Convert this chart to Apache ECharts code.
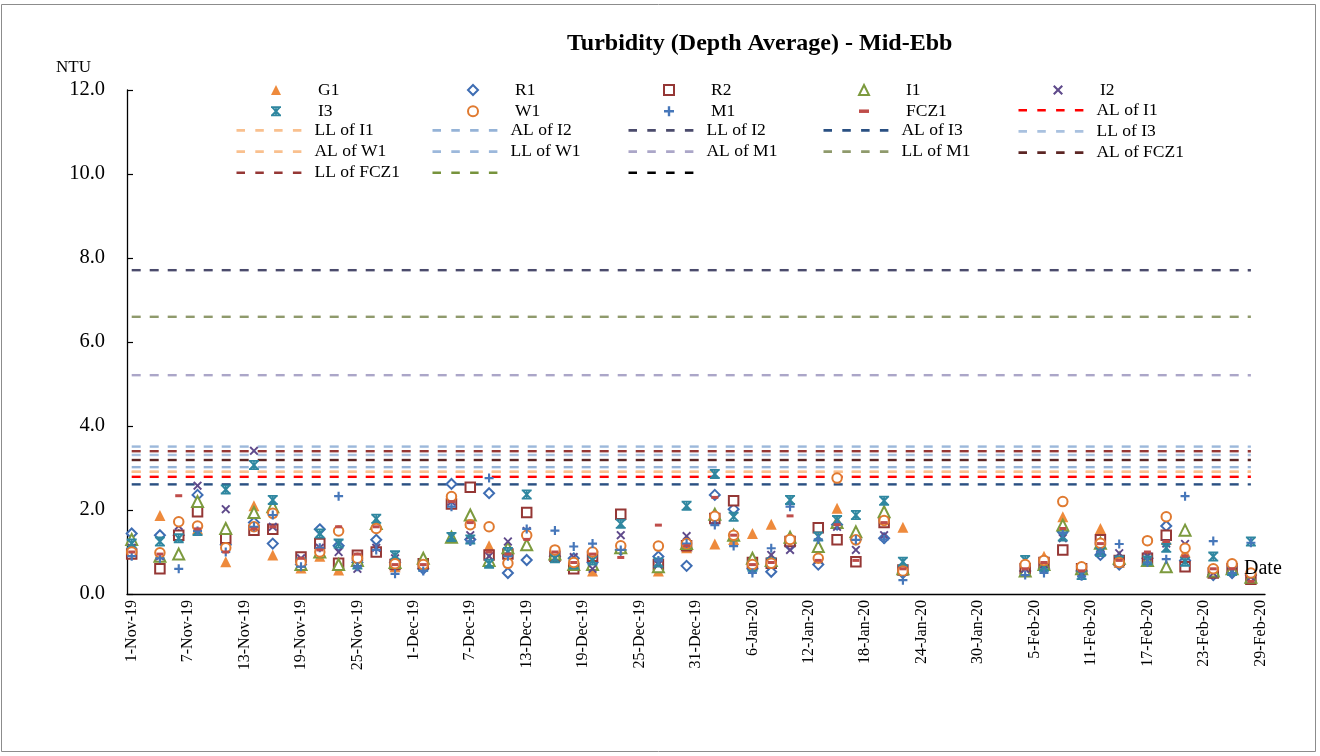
<!DOCTYPE html>
<html><head><meta charset="utf-8">
<script src="https://cdn.jsdelivr.net/npm/echarts@6/dist/echarts.min.js"></script>
<style>html,body{margin:0;padding:0;background:#fff}#c{width:1320px;height:756px}</style>
</head><body><div id="c"></div>
<script>
// ---------- DATA ----------
const MONTHS = ['Jan','Feb','Mar','Apr','May','Jun','Jul','Aug','Sep','Oct','Nov','Dec'];
function fmtDay(dt){ return dt.getUTCDate() + '-' + MONTHS[dt.getUTCMonth()] + '-' + String(dt.getUTCFullYear()).slice(2); }
const categories = [];
for (let t = Date.UTC(2019,10,1); t <= Date.UTC(2020,1,29); t += 86400000) categories.push(fmtDay(new Date(t)));

const sampleDates = ['1-Nov-19','4-Nov-19','6-Nov-19','8-Nov-19','11-Nov-19','14-Nov-19','16-Nov-19','19-Nov-19','21-Nov-19','23-Nov-19',
  '25-Nov-19','27-Nov-19','29-Nov-19','2-Dec-19','5-Dec-19','7-Dec-19','9-Dec-19','11-Dec-19','13-Dec-19','16-Dec-19',
  '18-Dec-19','20-Dec-19','23-Dec-19','27-Dec-19','30-Dec-19','2-Jan-20','4-Jan-20','6-Jan-20','8-Jan-20','10-Jan-20',
  '13-Jan-20','15-Jan-20','17-Jan-20','20-Jan-20','22-Jan-20','4-Feb-20','6-Feb-20','8-Feb-20','10-Feb-20','12-Feb-20',
  '14-Feb-20','17-Feb-20','19-Feb-20','21-Feb-20','24-Feb-20','26-Feb-20','28-Feb-20'];

const G1 = [1.10,1.87,1.40,1.55,0.77,2.10,0.93,0.62,0.90,0.57,0.80,1.13,0.65,0.80,2.25,1.70,1.15,1.05,1.17,1.00,0.65,0.55,1.12,0.55,1.10,1.19,1.30,1.44,1.66,1.30,0.85,2.04,1.40,1.80,1.59,0.65,0.90,1.84,0.60,1.56,0.75,0.85,1.30,1.00,0.55,0.65,0.45];
const R1 = [1.44,1.40,1.40,2.36,1.17,1.70,1.20,0.70,1.54,1.15,0.75,1.29,0.75,0.60,2.62,1.30,2.40,0.50,0.81,0.90,0.85,0.75,1.05,0.89,0.67,2.36,2.02,0.60,0.53,1.15,0.70,1.65,1.30,1.33,0.50,0.55,0.60,1.48,0.55,0.93,0.70,0.85,1.62,0.80,0.45,0.50,0.45];
const R2 = [0.95,0.60,1.40,1.96,1.33,1.52,1.54,0.88,1.20,0.73,0.92,1.00,0.70,0.72,2.14,2.54,0.93,0.95,1.94,0.90,0.60,0.90,1.90,0.70,1.15,1.80,2.22,0.75,0.73,1.25,1.58,1.29,0.77,1.70,0.57,0.60,0.75,1.05,0.60,1.29,0.80,0.85,1.40,0.65,0.50,0.60,0.35];
const I1 = [1.30,0.90,0.95,2.20,1.56,1.94,2.08,0.70,1.00,0.70,0.80,1.68,0.75,0.85,1.35,1.88,0.80,1.10,1.17,0.95,0.70,0.70,1.10,0.65,1.20,1.90,1.40,0.85,0.80,1.35,1.13,1.70,1.48,1.96,0.60,0.55,0.70,1.64,0.60,1.21,0.85,0.80,0.65,1.52,0.55,0.60,0.40];
const I2 = [1.10,0.90,1.62,2.58,2.02,3.41,1.60,0.85,1.10,1.00,0.60,1.10,0.85,0.65,2.20,1.40,0.90,1.25,1.50,0.85,0.88,0.60,1.40,0.70,1.38,1.75,1.40,0.65,0.93,1.05,0.83,1.60,1.05,1.40,0.55,0.60,0.70,1.33,0.50,1.10,0.97,0.90,1.20,1.19,0.50,0.55,0.40];
const I3 = [1.20,1.25,1.33,1.50,2.49,3.07,2.24,0.75,1.44,1.20,0.70,1.79,0.92,0.65,1.36,1.30,0.72,1.00,2.37,0.85,0.70,0.80,1.67,0.75,2.10,2.86,1.84,0.65,0.75,2.24,1.37,1.76,1.88,2.22,0.77,0.81,0.65,1.37,0.45,1.00,0.80,0.80,1.10,0.77,0.89,0.55,1.25];
const W1 = [1.00,0.98,1.72,1.62,1.10,1.60,1.92,0.75,1.00,1.50,0.85,1.56,0.72,0.70,2.32,1.65,1.60,0.73,1.40,1.05,0.75,1.00,1.15,1.14,1.20,1.85,1.40,0.70,0.73,1.30,0.85,2.76,1.29,1.75,0.55,0.70,0.80,2.20,0.65,1.21,0.75,1.27,1.84,1.09,0.60,0.72,0.50];
const M1 = [0.90,0.85,0.60,1.50,1.00,1.60,1.88,0.65,1.10,2.33,0.65,1.05,0.48,0.55,2.08,1.25,2.76,0.90,1.55,1.51,1.13,1.20,1.05,0.80,1.20,1.64,1.14,0.50,1.09,2.08,1.30,1.65,1.29,1.30,0.33,0.45,0.50,1.45,0.42,1.00,1.19,0.75,0.83,2.33,1.26,0.50,1.22];
const FCZ1 = [1.00,0.95,2.34,1.55,1.00,1.55,1.60,0.85,1.05,1.60,0.95,1.60,0.70,0.70,2.20,1.70,1.00,0.95,1.30,1.00,0.75,0.95,0.87,1.64,1.15,2.30,1.40,0.70,0.75,1.86,0.80,1.65,0.80,1.70,0.60,0.60,0.75,1.56,0.55,1.20,0.80,1.00,1.25,0.90,0.60,0.60,0.30];

const stationNames = ['G1','R1','R2','I1','I2','I3','W1','M1','FCZ1'];
const stationValues = [G1,R1,R2,I1,I2,I3,W1,M1,FCZ1];

// Action / Limit levels (NTU)
const limitNames  = ['AL of I1','LL of I1','AL of I2','LL of I2','AL of I3','LL of I3','AL of W1','LL of W1','AL of M1','LL of M1','AL of FCZ1','LL of FCZ1',' ','  '];
const limitValues = [2.79, 2.91, 3.02, 7.71, 2.61, 3.31, 2.91, 3.51, 5.21, 6.60, 3.19, 3.40, null, null];
const limitFrom = '1-Nov-19';
const limitTo = '28-Feb-20';
const yTicks = [0, 2, 4, 6, 8, 10, 12];

// ---------- STYLES ----------
const SERIF = "'Liberation Serif','Times New Roman',serif";
const P_X = 'path://M0,1.5 L1.5,0 L5,3.5 L8.5,0 L10,1.5 L6.5,5 L10,8.5 L8.5,10 L5,6.5 L1.5,10 L0,8.5 L3.5,5 Z';
const P_PLUS = 'path://M3.8,0 H6.2 V3.8 H10 V6.2 H6.2 V10 H3.8 V6.2 H0 V3.8 H3.8 Z';
const P_DASH = 'path://M0,0 H10 V3.5 H0 Z';
const P_STAR = 'path://M0,0 H10 V1.8 H0 Z M0,8.2 H10 V10 H0 Z M4.2,0 H5.8 V10 H4.2 Z M0.2,1.4 L1.6,0.2 L5,3.6 L8.4,0.2 L9.8,1.4 L6.4,5 L9.8,8.6 L8.4,9.8 L5,6.4 L1.6,9.8 L0.2,8.6 L3.6,5 Z';
const P_DASHLINE = 'path://M0,0 H8.5 V2.6 H0 Z M18.8,0 H27.3 V2.6 H18.8 Z M37.6,0 H46.1 V2.6 H37.6 Z M56.4,0 H64.9 V2.6 H56.4 Z';

const stationStyle = {
  G1:   {symbol:'triangle', size:11, color:'#EE8A3C'},
  R1:   {symbol:'emptyDiamond', size:10, color:'#3E6DB3'},
  R2:   {symbol:'emptyRect', size:9.5, color:'#953735'},
  I1:   {symbol:'emptyTriangle', size:11, color:'#7C9A3E'},
  I2:   {symbol:P_X, size:9, color:'#5F4A8B'},
  I3:   {symbol:P_STAR, size:10, color:'#2F87A0'},
  W1:   {symbol:'emptyCircle', size:9.5, color:'#E07A30'},
  M1:   {symbol:P_PLUS, size:9, color:'#4677BA'},
  FCZ1: {symbol:P_DASH, size:[7,3], color:'#BF4D4A'}
};
const limitColors = {
  'AL of I1':'#FF0000','LL of I1':'#F9C08E','AL of I2':'#95B3D7','LL of I2':'#4B4B6C',
  'AL of I3':'#2A5082','LL of I3':'#A9C1DF','AL of W1':'#F9C08E','LL of W1':'#9CB8DB',
  'AL of M1':'#ABA6C8','LL of M1':'#8F9A6C','AL of FCZ1':'#5C2624','LL of FCZ1':'#953735',
  ' ':'#77933C','  ':'#000000'
};

const series = [];
limitNames.forEach((n, i) => {
  const v = limitValues[i];
  series.push({
    name: n, type: 'line', z: 2, symbol: 'none', silent: true, animation: false,
    itemStyle: {color: limitColors[n]},
    lineStyle: {color: limitColors[n], width: 2.4, type: [9, 9]},
    data: v == null ? [] : [[limitFrom, v], [limitTo, v]]
  });
});
stationNames.forEach((n, i) => {
  const st = stationStyle[n];
  series.push({
    name: n, type: 'scatter', z: 4, animation: false,
    symbol: st.symbol, symbolSize: st.size,
    itemStyle: {color: st.color, borderColor: st.color, borderWidth: st.symbol.indexOf('empty') === 0 ? 2 : 0, opacity: 1},
    data: sampleDates.map((d, k) => [d, stationValues[i][k]])
  });
});

const textStart = [318, 514, 710, 905, 1100];
const rowC = [89.5, 109.7, 129.9, 150.1, 170.3];
const LH = 17;
const GAP = rowC[1] - rowC[0] - LH;
function symLegend(col, names){
  const left = textStart[col] - 42 - 5;
  return {left: left, top: rowC[0] - LH/2, orient: 'vertical', padding: 0, itemGap: GAP,
    itemWidth: 10, itemHeight: 10, selectedMode: false,
    textStyle: {fontFamily: SERIF, fontSize: 17.5, color: '#000', lineHeight: LH, padding: [0, 0, 0, textStart[col] - (left + 15)]},
    data: names};
}
function lineLegend(col, row0, names){
  const left = textStart[col] - 78 - 3.5;
  return {left: left, top: rowC[row0] - LH/2, orient: 'vertical', padding: 0, itemGap: GAP,
    itemWidth: 72, itemHeight: 2.6, selectedMode: false,
    itemStyle: {borderWidth: 0},
    textStyle: {fontFamily: SERIF, fontSize: 17.5, color: '#000', lineHeight: LH, padding: [0, 0, 0, textStart[col] - (left + 77)]},
    data: names.map(n => ({name: n, icon: P_DASHLINE}))};
}

const option = {
  backgroundColor: '#fff',
  animation: false,
  title: {text: 'Turbidity (Depth Average) - Mid-Ebb', left: 567, top: 32, padding: 0,
    textStyle: {fontFamily: SERIF, fontSize: 24, fontWeight: 'bold', color: '#000'}},
  legend: [
    symLegend(0, ['G1','I3']), symLegend(1, ['R1','W1']), symLegend(2, ['R2','M1']),
    symLegend(3, ['I1','FCZ1']), symLegend(4, ['I2']),
    lineLegend(0, 2, ['LL of I1','AL of W1','LL of FCZ1']),
    lineLegend(1, 2, ['AL of I2','LL of W1',' ']),
    lineLegend(2, 2, ['LL of I2','AL of M1','  ']),
    lineLegend(3, 2, ['AL of I3','LL of M1']),
    lineLegend(4, 1, ['AL of I1','LL of I3','AL of FCZ1'])
  ],
  grid: {left: 127, top: 90, width: 1138, height: 504, containLabel: false},
  xAxis: {
    type: 'category', data: categories, boundaryGap: true,
    axisLine: {lineStyle: {color: '#000', width: 1.3}},
    axisTick: {inside: true, length: 6, interval: 5, lineStyle: {color: '#000', width: 1.2}},
    axisLabel: {interval: 5, rotate: 90, margin: 6, fontFamily: SERIF, fontSize: 16, color: '#000'},
    splitLine: {show: false}
  },
  yAxis: {
    type: 'value', min: yTicks[0], max: yTicks[yTicks.length-1], interval: 2,
    name: 'NTU', nameLocation: 'end', nameGap: 14,
    nameTextStyle: {fontFamily: SERIF, fontSize: 17, color: '#000', align: 'right', padding: [0, 36, 0, 0]},
    axisLine: {show: true, lineStyle: {color: '#000', width: 1.3}},
    axisTick: {show: true, inside: true, length: 6, lineStyle: {color: '#000', width: 1.2}},
    axisLabel: {margin: 22, fontFamily: SERIF, fontSize: 20.5, color: '#000', formatter: v => v.toFixed(1)},
    splitLine: {show: false}
  },
  graphic: [
    {type: 'rect', shape: {x: 1.5, y: 4.5, width: 1314, height: 747}, style: {fill: 'none', stroke: '#8c8c8c', lineWidth: 1}, silent: true, z: -10},
    {type: 'text', left: 1244, top: 559, style: {text: 'Date', font: '20px ' + SERIF, fill: '#000'}, z: 100}
  ],
  series: series
};
const chart = echarts.init(document.getElementById('c'), null, {renderer: 'canvas'});
chart.setOption(option);
</script>
</body></html>
